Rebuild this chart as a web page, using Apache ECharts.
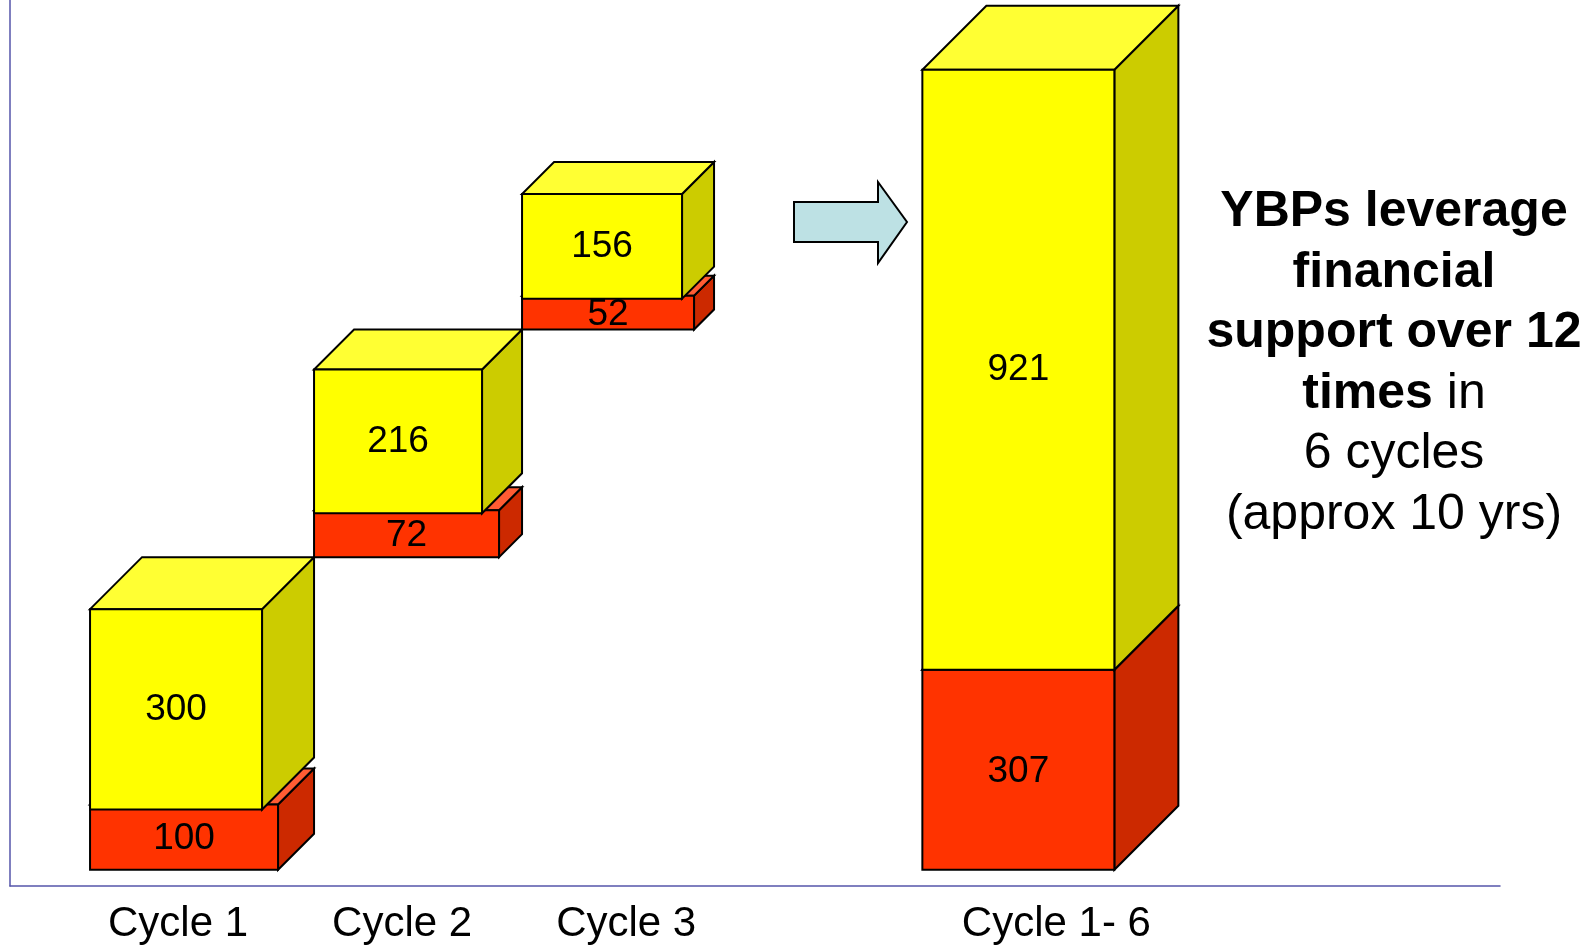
<!DOCTYPE html>
<html>
<head>
<meta charset="utf-8">
<title>YBPs leverage</title>
<script src="https://cdn.jsdelivr.net/npm/echarts@6/dist/echarts.min.js"></script>
<style>
  html, body { margin: 0; padding: 0; background: #fff; }
  #main { width: 1590px; height: 946px; }
</style>
</head>
<body>
<div id="main"></div>
<script>
// data
var categories = ['Cycle 1', 'Cycle 2', 'Cycle 3', 'Cycle 1- 6'];
var supportValues = [100, 72, 52, 307];      // red part
var leverageValues = [300, 216, 156, 921];   // yellow part

// layout / style (pixels) - not data
var labelSlots = [1, 2, 3, 4.92];
var LABEL_LEAD = [2, 0, 0, 38];        // label centre sits a little right of the box
var YEL_W = [172, 168, 160, 192];
var YEL_D = [52, 40, 32, 64];
var RED_W = [188, 185, 172, 192];
var RED_D = [36, 23, 20, 64];
var OVERLAP = [5, 3, 3, 0];
var FONT = '"Liberation Sans", Arial, Helvetica, sans-serif';
var EDGE = { stroke: '#000', lineWidth: 2, lineJoin: 'miter' };

// waterfall base: the cycles climb, the total starts from 0
var chartData = [];
var running = 0;
for (var i = 0; i < categories.length; i++) {
    var isTotal = i === categories.length - 1;
    var base = isTotal ? 0 : running;
    chartData.push([labelSlots[i], base, supportValues[i], leverageValues[i]]);
    if (!isTotal) running += supportValues[i] + leverageValues[i];
}

function box(left, w, d, top, bottom, colors) {
    return [
        { type: 'polygon', shape: { points: [[left + w, top], [left + w + d, top - d], [left + w + d, bottom - d], [left + w, bottom]] },
          style: Object.assign({ fill: colors.side }, EDGE) },
        { type: 'polygon', shape: { points: [[left, top], [left + w, top], [left + w + d, top - d], [left + d, top - d]] },
          style: Object.assign({ fill: colors.top }, EDGE) },
        { type: 'rect', shape: { x: left, y: top, width: w, height: bottom - top },
          style: Object.assign({ fill: colors.front }, EDGE) }
    ];
}

function valueText(x, y, v) {
    return { type: 'text', x: x, y: y, z2: 10,
             style: { text: String(v), fill: '#000', fontSize: 37, fontFamily: FONT, align: 'center', verticalAlign: 'middle' } };
}

var RED = { front: '#FF3300', top: '#FF5C33', side: '#CC2900' };
var YEL = { front: '#FFFF00', top: '#FFFF33', side: '#CCCC00' };

function renderBox(params, api) {
    var i = params.dataIndex;
    var isTotal = i === categories.length - 1;
    var base = api.value(1), red = api.value(2), yel = api.value(3);
    var left, lift = 0;
    if (isTotal) {
        left = api.coord([api.value(0), 0])[0] - YEL_W[i] / 2 - LABEL_LEAD[i];
    } else {
        left = api.coord([labelSlots[0], 0])[0] - YEL_W[0] / 2 - LABEL_LEAD[0];
        for (var j = 0; j < i; j++) {
            left += YEL_W[j] + YEL_D[j];
            lift += YEL_D[j];
        }
    }
    var y0 = api.coord([0, base])[1] - lift;
    var y1 = api.coord([0, base + red])[1] - lift;
    var y2 = api.coord([0, base + red + yel])[1] - lift;

    var children = []
        .concat(box(left, RED_W[i], RED_D[i], y1, y0, RED))
        .concat(box(left, YEL_W[i], YEL_D[i], y2, y1 + OVERLAP[i], YEL));
    children.push(valueText(left + RED_W[i] / 2, (y0 + y1) / 2 + 2, red));
    children.push(valueText(left + YEL_W[i] / 2, (y1 + OVERLAP[i] + y2) / 2, yel));
    return { type: 'group', children: children };
}

var chart = echarts.init(document.getElementById('main'));
var option = {
    animation: false,
    backgroundColor: '#fff',
    grid: { left: 10, right: 90, top: 0, bottom: 60 },
    xAxis: {
        type: 'value',
        min: 0.25,
        max: 6.9,
        splitLine: { show: false },
        axisTick: { show: false },
        axisLine: { show: true, onZero: false, lineStyle: { color: '#5555AA', width: 1.5 } },
        axisLabel: {
            customValues: labelSlots,
            formatter: function (v) {
                for (var k = 0; k < labelSlots.length; k++) {
                    if (Math.abs(labelSlots[k] - v) < 1e-6) return categories[k];
                }
                return '';
            },
            color: '#000',
            fontSize: 42,
            fontFamily: FONT,
            margin: 17
        }
    },
    yAxis: {
        type: 'value',
        min: -25,
        max: 1335,
        splitLine: { show: false },
        axisTick: { show: false },
        axisLabel: { show: false },
        axisLine: { show: true, onZero: false, lineStyle: { color: '#5555AA', width: 1.5 } }
    },
    series: [{
        type: 'custom',
        name: 'Funding',
        renderItem: renderBox,
        encode: { x: 0, y: [1, 2, 3] },
        data: chartData,
        clip: false
    }],
    graphic: [
        {
            type: 'polygon',
            shape: { points: [[794, 202], [878, 202], [878, 182], [907, 222], [878, 263], [878, 242], [794, 242]] },
            style: { fill: '#BDE1E4', stroke: '#000', lineWidth: 2 }
        },
        {
            type: 'text',
            x: 1394,
            y: 182,
            style: {
                text: '{b|YBPs leverage}\n{b|financial}\n{b|support over 12}\n{b|times}{n| in}\n{n|6 cycles}\n{n|(approx 10 yrs)}',
                align: 'center',
                verticalAlign: 'top',
                fontSize: 50,
                lineHeight: 60.5,
                fontFamily: FONT,
                fill: '#000',
                rich: {
                    b: { fontWeight: 'bold', fontSize: 50, lineHeight: 60.5, fontFamily: FONT, fill: '#000' },
                    n: { fontWeight: 'normal', fontSize: 50, lineHeight: 60.5, fontFamily: FONT, fill: '#000' }
                }
            }
        }
    ]
};
chart.setOption(option);
</script>
</body>
</html>
